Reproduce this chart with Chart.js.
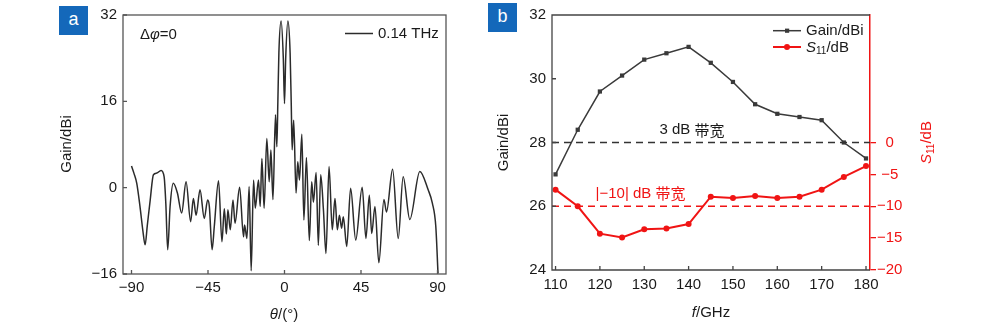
<!DOCTYPE html>
<html><head><meta charset="utf-8">
<script src="https://cdn.jsdelivr.net/npm/chart.js@4"></script>
<style>
html,body{margin:0;padding:0;background:#fff;width:1000px;height:329px;overflow:hidden;position:relative;}
#wrapA{position:absolute;left:0;top:0;width:470px;height:329px;}
#wrapB{position:absolute;left:480px;top:0;width:520px;height:329px;}
.tag{position:absolute;width:29px;height:29px;background:#1468ba;color:#fff;font:18px 'Liberation Sans',Arial,sans-serif;text-align:center;line-height:27px;}
</style></head>
<body>
<div id="wrapA"><canvas id="cA" width="470" height="329"></canvas></div>
<div id="wrapB"><canvas id="cB" width="520" height="329"></canvas></div>
<div class="tag" style="left:59px;top:6px">a</div>
<div class="tag" style="left:488px;top:3px">b</div>
<script>
// ---------- Panel a data ----------
const thetaDeg = [-90,-88.5,-86.9,-85,-83.3,-82.0,-80.7,-79.0,-77.1,-75.1,-72.6,-70.8,-69.8,-68.7,-67.3,-65.4,-63.0,-60.5,-57.9,-55.2,-53.6,-52.0,-49.7,-47.2,-45.2,-44.2,-42.6,-41.3,-38.8,-36.8,-35.4,-34.2,-33.3,-31.9,-30.3,-29.1,-26.4,-24.1,-23.5,-22.1,-20.8,-19.6,-18.2,-17.2,-15.3,-14.3,-13.3,-12.0,-10.4,-9.0,-8.0,-6.8,-5.3,-4.5,-3.9,-3.3,-2.0,-0.7,0,0.7,2.0,3.3,4.0,4.5,5.4,6.8,7.8,8.8,10.2,11.4,12.9,14.6,16.0,17.0,18.6,19.9,21.3,22.9,24.4,26.2,28.1,29.7,31.1,32.3,33.6,34.6,36.6,38.9,41.9,45.7,47.9,49.9,51.3,53.2,55.5,58.5,60.0,63.6,66.9,69.8,73.7,79.6,84.5,87.0,89.0,90.3];
const gainPattern = [4.0,2.6,0.8,-3.5,-8,-10.6,-7,-2.3,2.4,2.7,3.2,2.0,-3,-11.5,-3.5,0.8,-1.0,-4.7,1.1,-6.3,-2.0,-5.1,-0.4,-5.7,-2.3,-3.5,-11.5,-7.2,1.3,-10.0,-3.9,-8.6,-4.1,-7.8,-2.3,-6.6,0.1,-9.1,-6.9,-9.4,0.2,-15.4,1.4,-3.8,1.4,-3.5,5.4,-3.8,9.1,1.1,7.0,-2.2,13.5,7.6,16,25,30.9,24,15.6,24,30.9,25,15,7.0,12.5,-1.0,4.8,1.4,9.9,-6.0,5.6,-9.8,1.1,-2.7,2.8,-10.7,2.4,-4.1,-12.2,3.9,-7.8,-2.0,-7.8,-5.1,-7.5,-5.4,-10.9,-0.1,-9.7,0.1,-9.4,-1.4,-8.5,-3.5,-13.9,-2.2,-4.5,3.4,-9.4,2.0,-5.9,3.0,-0.4,-2.9,-7.2,-15.9];
const patternXTicks = [-90,-45,0,45,90];
const patternYTicks = [-16,0,16,32];

// ---------- Panel b data ----------
const freqGHz = [110,115,120,125,130,135,140,145,150,155,160,165,170,175,180];
const gainDBi = [27.0,28.4,29.6,30.1,30.6,30.8,31.0,30.5,29.9,29.2,28.9,28.8,28.7,28.0,27.5];
const s11DB = [-7.4,-10.0,-14.3,-14.9,-13.6,-13.5,-12.8,-8.5,-8.7,-8.4,-8.7,-8.5,-7.4,-5.4,-3.7];
const freqTicks = [110,120,130,140,150,160,170,180];
const gainTicks = [24,26,28,30,32];
const s11Ticks = [-20,-15,-10,-5,0];
const gain3dBLevel = 28;
const s11Threshold = -10;

const FONT = "'Liberation Sans', Arial, sans-serif";
const CJK = "'Noto Sans CJK SC', sans-serif";
const TXT = '#1a1a1a';
const RED = '#f01414';
Chart.defaults.font.family = FONT;
Chart.defaults.font.size = 15;
Chart.defaults.color = TXT;
const fmt = v => (v < 0 ? '\u2212' + Math.abs(v) : String(v));
const setTicks = arr => s => { s.ticks = arr.map(v => ({value: v})); };

function drawRuns(ctx, runs, x, y, align) {
  let total = 0;
  runs.forEach(r => { ctx.font = r.font; total += ctx.measureText(r.t).width; });
  let cx = align === 'center' ? x - total / 2 : x;
  ctx.textAlign = 'left';
  runs.forEach(r => { ctx.font = r.font; ctx.fillText(r.t, cx, y + (r.dy || 0)); cx += ctx.measureText(r.t).width; });
}

// ---------- Panel a ----------
const frameA = {
  id: 'frameA',
  afterDatasetsDraw(chart) {
    const {ctx, chartArea: ca, scales} = chart;
    ctx.save();
    ctx.strokeStyle = '#555'; ctx.lineWidth = 1.3;
    ctx.strokeRect(ca.left, ca.top, ca.right - ca.left, ca.bottom - ca.top);
    ctx.beginPath();
    scales.x.ticks.forEach(t => { const p = scales.x.getPixelForValue(t.value); ctx.moveTo(p, ca.bottom); ctx.lineTo(p, ca.bottom - 4); });
    scales.y.ticks.forEach(t => { const p = scales.y.getPixelForValue(t.value); ctx.moveTo(ca.left, p); ctx.lineTo(ca.left + 4, p); });
    ctx.stroke();
    ctx.strokeStyle = '#2b2b2b'; ctx.lineWidth = 1.5;
    ctx.beginPath(); ctx.moveTo(345, 33.5); ctx.lineTo(373, 33.5); ctx.stroke();
    ctx.fillStyle = TXT; ctx.textBaseline = 'middle';
    ctx.font = '15px ' + FONT; ctx.textAlign = 'left';
    ctx.fillText('0.14 THz', 378, 34);
    drawRuns(ctx, [{t:'\u0394', font:'15px ' + FONT}, {t:'\u03C6', font:'italic 15px ' + FONT}, {t:'=0', font:'15px ' + FONT}], 140, 35, 'left');
    drawRuns(ctx, [{t:'\u03B8', font:'italic 15px ' + FONT}, {t:'/(\u00B0)', font:'15px ' + FONT}], 284, 315, 'center');
    ctx.translate(67, 144); ctx.rotate(-Math.PI / 2);
    ctx.font = '15px ' + FONT; ctx.textAlign = 'center';
    ctx.fillText('Gain/dBi', 0, 0);
    ctx.restore();
  }
};

new Chart(document.getElementById('cA'), {
  type: 'line',
  data: {datasets: [{
    data: thetaDeg.map((t, i) => ({x: t, y: gainPattern[i]})),
    borderColor: '#2b2b2b', borderWidth: 1.5, pointRadius: 0,
    cubicInterpolationMode: 'monotone', fill: false
  }]},
  options: {
    responsive: false, animation: false, events: [],
    layout: {padding: {top: 15, right: 24, left: 0, bottom: 0}},
    plugins: {legend: {display: false}, tooltip: {enabled: false}},
    scales: {
      x: {type: 'linear', min: -95, max: 95, afterBuildTicks: setTicks(patternXTicks),
          afterFit: s => { s.height = 55; },
          grid: {display: false, drawTicks: false}, border: {display: false},
          ticks: {padding: 5, color: TXT, maxRotation: 0, autoSkip: false, callback: v => fmt(v)}},
      y: {type: 'linear', min: -16, max: 32, afterBuildTicks: setTicks(patternYTicks),
          afterFit: s => { s.width = 123; },
          grid: {display: false, drawTicks: false}, border: {display: false},
          ticks: {padding: 6, color: TXT, autoSkip: false, callback: v => fmt(v)}}
    }
  },
  plugins: [frameA]
});

// ---------- Panel b ----------
const frameB = {
  id: 'frameB',
  afterDatasetsDraw(chart) {
    const {ctx, chartArea: ca, scales} = chart;
    ctx.save();
    ctx.strokeStyle = '#444'; ctx.lineWidth = 1.3;
    ctx.beginPath();
    ctx.moveTo(ca.right, ca.top); ctx.lineTo(ca.left, ca.top); ctx.lineTo(ca.left, ca.bottom); ctx.lineTo(ca.right, ca.bottom);
    scales.x.ticks.forEach(t => { const p = scales.x.getPixelForValue(t.value); ctx.moveTo(p, ca.bottom); ctx.lineTo(p, ca.bottom - 4); });
    scales.y.ticks.forEach(t => { const p = scales.y.getPixelForValue(t.value); ctx.moveTo(ca.left, p); ctx.lineTo(ca.left + 4, p); });
    ctx.stroke();
    ctx.strokeStyle = '#3a3a3a'; ctx.lineWidth = 1.5;
    ctx.beginPath(); ctx.moveTo(293, 30.7); ctx.lineTo(321, 30.7); ctx.stroke();
    ctx.fillStyle = '#3a3a3a'; ctx.fillRect(305, 28.6, 4.2, 4.2);
    ctx.strokeStyle = RED; ctx.lineWidth = 2;
    ctx.beginPath(); ctx.moveTo(293, 47); ctx.lineTo(321, 47); ctx.stroke();
    ctx.fillStyle = RED; ctx.beginPath(); ctx.arc(307, 47, 3, 0, Math.PI * 2); ctx.fill();
    ctx.fillStyle = TXT; ctx.textBaseline = 'middle';
    ctx.font = '15px ' + FONT; ctx.textAlign = 'left';
    ctx.fillText('Gain/dBi', 326, 31);
    drawRuns(ctx, [{t:'S', font:'italic 15px ' + FONT}, {t:'11', font:'10px ' + FONT, dy: 4}, {t:'/dB', font:'15px ' + FONT}], 326, 47.5, 'left');
    ctx.fillStyle = TXT;
    drawRuns(ctx, [{t:'3 dB ', font:'15px ' + FONT}, {t:'\u5E26\u5BBD', font:'15px ' + CJK}], 212, 130, 'center');
    ctx.fillStyle = RED;
    drawRuns(ctx, [{t:'|\u221210| dB ', font:'15px ' + FONT}, {t:'\u5E26\u5BBD', font:'15px ' + CJK}], 160.5, 193.5, 'center');
    ctx.fillStyle = TXT;
    drawRuns(ctx, [{t:'f', font:'italic 15px ' + FONT}, {t:'/GHz', font:'15px ' + FONT}], 231, 313, 'center');
    ctx.save();
    ctx.translate(24, 142.5); ctx.rotate(-Math.PI / 2);
    ctx.font = '15px ' + FONT; ctx.textAlign = 'center';
    ctx.fillText('Gain/dBi', 0, 0);
    ctx.restore();
    ctx.save();
    ctx.translate(447, 142.5); ctx.rotate(-Math.PI / 2);
    ctx.fillStyle = RED;
    drawRuns(ctx, [{t:'S', font:'italic 15px ' + FONT}, {t:'11', font:'10px ' + FONT, dy: 4}, {t:'/dB', font:'15px ' + FONT}], 0, 0, 'center');
    ctx.restore();
    ctx.restore();
  }
};

new Chart(document.getElementById('cB'), {
  type: 'line',
  data: {datasets: [
    {data: [{x: 109.2, y: gain3dBLevel}, {x: 180.9, y: gain3dBLevel}], yAxisID: 'y',
     borderColor: '#333', borderWidth: 1.3, borderDash: [7, 5], pointRadius: 0, fill: false},
    {data: [{x: 109.2, y: s11Threshold}, {x: 180.9, y: s11Threshold}], yAxisID: 'y2',
     borderColor: RED, borderWidth: 1.3, borderDash: [7, 5], pointRadius: 0, fill: false},
    {data: freqGHz.map((f, i) => ({x: f, y: gainDBi[i]})), yAxisID: 'y',
     borderColor: '#3a3a3a', borderWidth: 1.5, pointStyle: 'rect', pointRadius: 3,
     pointBackgroundColor: '#3a3a3a', pointBorderColor: '#3a3a3a', pointBorderWidth: 0, tension: 0, fill: false},
    {data: freqGHz.map((f, i) => ({x: f, y: s11DB[i]})), yAxisID: 'y2',
     borderColor: RED, borderWidth: 2, pointStyle: 'circle', pointRadius: 3,
     pointBackgroundColor: RED, pointBorderColor: RED, pointBorderWidth: 0, tension: 0, fill: false}
  ]},
  options: {
    responsive: false, animation: false, events: [],
    layout: {padding: {top: 15, right: 0, left: 0, bottom: 0}},
    plugins: {legend: {display: false}, tooltip: {enabled: false}},
    scales: {
      x: {type: 'linear', min: 109.2, max: 180.9, afterBuildTicks: setTicks(freqTicks),
          afterFit: s => { s.height = 59; },
          grid: {display: false, drawTicks: false}, border: {display: false},
          ticks: {padding: 6, color: TXT, maxRotation: 0, autoSkip: false}},
      y: {type: 'linear', position: 'left', min: 24, max: 32, afterBuildTicks: setTicks(gainTicks),
          afterFit: s => { s.width = 72; },
          grid: {display: false, drawTicks: false}, border: {display: false},
          ticks: {padding: 6, color: TXT, autoSkip: false}},
      y2: {type: 'linear', position: 'right', min: -20, max: 20, afterBuildTicks: setTicks(s11Ticks),
          afterFit: s => { s.width = 130; },
          grid: {display: true, drawOnChartArea: false, drawTicks: true, tickLength: 6, color: RED, lineWidth: 1.3},
          border: {display: true, color: RED, width: 1.5},
          ticks: {padding: 1, color: RED, crossAlign: 'center', autoSkip: false, callback: v => fmt(v)}}
    }
  },
  plugins: [frameB]
});
</script>
</body></html>
